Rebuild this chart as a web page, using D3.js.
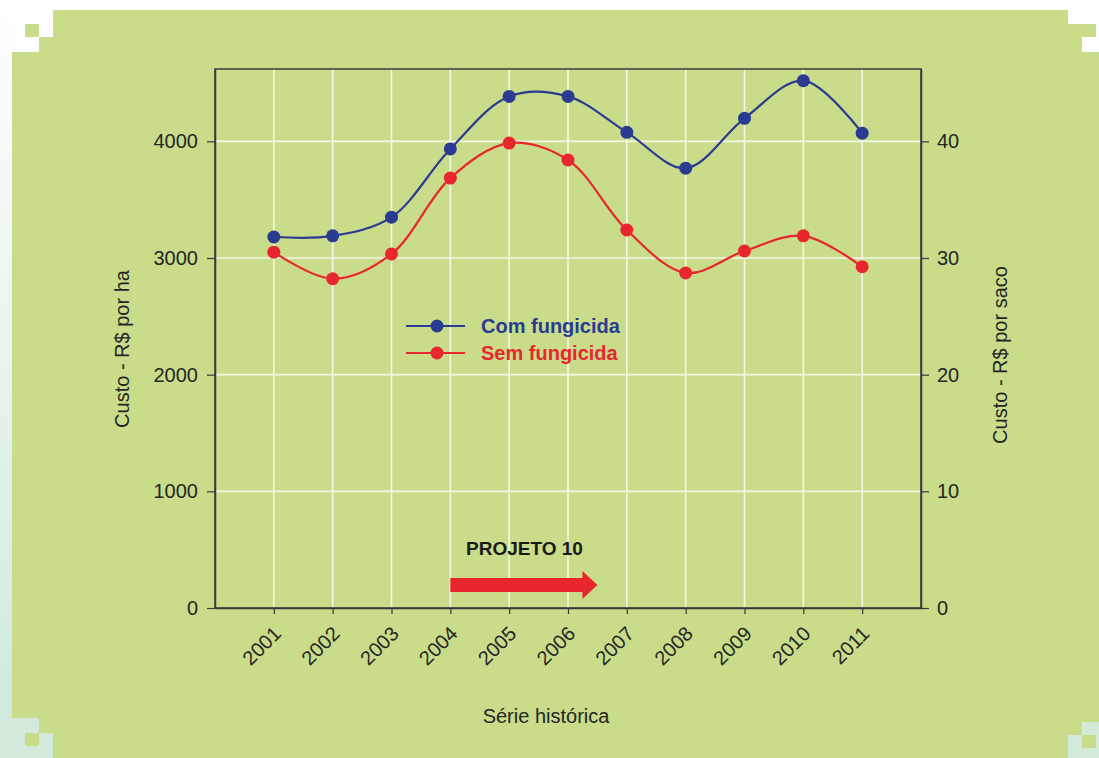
<!DOCTYPE html>
<html>
<head>
<meta charset="utf-8">
<script src="https://cdn.jsdelivr.net/npm/d3@7"></script>
<style>
  html, body { margin: 0; padding: 0; background: #ffffff; }
  svg { display: block; font-family: "Liberation Sans", Arial, sans-serif; }
</style>
</head>
<body>
<svg id="chart" width="1099" height="758"></svg>
<script>
// ---- data ----
const years = [2001, 2002, 2003, 2004, 2005, 2006, 2007, 2008, 2009, 2010, 2011];
const comFungicida = [3180, 3190, 3350, 3935, 4385, 4385, 4077, 3770, 4197, 4520, 4070];
const semFungicida = [3050, 2822, 3035, 3685, 3985, 3840, 3240, 2872, 3060, 3190, 2925];
const leftTicks = [0, 1000, 2000, 3000, 4000];
const rightTicks = [0, 10, 20, 30, 40];
const seriesNames = ["Com fungicida", "Sem fungicida"];
const projectLabel = "PROJETO 10";
const projectStart = 2004;
const projectEnd = 2006.5;

// ---- layout ----
const W = 1099, H = 758;
const plot = { left: 215, right: 921, top: 69, bottom: 608 };
const green = "#c8dc8a";
const blue = "#2a3b92";
const red = "#e8262e";
const ink = "#262626";

const svg = d3.select("#chart");

// background decoration
const defs = svg.append("defs");
const lg = defs.append("linearGradient").attr("id", "leftfade").attr("x1", 0).attr("y1", 0).attr("x2", 0).attr("y2", 1);
lg.append("stop").attr("offset", "0%").attr("stop-color", "#ffffff");
lg.append("stop").attr("offset", "100%").attr("stop-color", "#cfe8da");
svg.append("rect").attr("x", 0).attr("y", 0).attr("width", W).attr("height", H).attr("fill", "#ffffff");
svg.append("rect").attr("x", 0).attr("y", 0).attr("width", 14).attr("height", H).attr("fill", "url(#leftfade)");
svg.append("rect").attr("x", 0).attr("y", 716).attr("width", 54).attr("height", 42).attr("fill", "#d3eadb");
svg.append("rect").attr("x", 1066).attr("y", 720).attr("width", 33).attr("height", 38).attr("fill", "#d3eadb");

// main green panel (stepped corners)
const panelPath = [
  [53, 10], [1068, 10], [1068, 24], [1082, 24], [1082, 52], [1099, 52],
  [1099, 722], [1082, 722], [1082, 735], [1068, 735], [1068, 758],
  [53, 758], [53, 733], [39, 733], [39, 718], [12, 718],
  [12, 52], [39, 52], [39, 37], [53, 37]
];
svg.append("path").attr("d", d3.line()(panelPath) + "Z").attr("fill", green);
// small corner squares
[[25, 24], [1082, 24], [25, 733], [1082, 735]].forEach(([sx, sy]) => {
  svg.append("rect").attr("x", sx).attr("y", sy).attr("width", 14).attr("height", 13).attr("fill", green);
});

// ---- scales ----
const x = d3.scaleLinear().domain([2000, 2012]).range([plot.left, plot.right]);
const yMax = 4620;
const y = d3.scaleLinear().domain([0, yMax]).range([plot.bottom, plot.top]);
const y2 = d3.scaleLinear().domain([0, yMax / 100]).range([plot.bottom, plot.top]);

// grid
const grid = svg.append("g");
grid.selectAll("line.v").data(years).join("line")
  .attr("x1", d => x(d)).attr("x2", d => x(d))
  .attr("y1", plot.top).attr("y2", plot.bottom)
  .attr("stroke", "#f4f7e6").attr("stroke-width", 1.6);
grid.selectAll("line.h").data(leftTicks.filter(d => d > 0)).join("line")
  .attr("x1", plot.left).attr("x2", plot.right)
  .attr("y1", d => y(d)).attr("y2", d => y(d))
  .attr("stroke", "#f4f7e6").attr("stroke-width", 1.6);

// frame
svg.append("rect")
  .attr("x", plot.left).attr("y", plot.top)
  .attr("width", plot.right - plot.left).attr("height", plot.bottom - plot.top)
  .attr("fill", "none").attr("stroke", "#3a3a3a").attr("stroke-width", 1.5);

// axes
function styleAxis(g) {
  g.select(".domain").attr("stroke", "#3a3a3a").attr("stroke-width", 1.5);
  g.selectAll(".tick line").attr("stroke", "#3a3a3a").attr("stroke-width", 1.2);
  g.selectAll(".tick text").attr("fill", ink).style("font-size", "20px")
    .style("font-family", "'Liberation Sans', Arial, sans-serif");
}
const gl = svg.append("g").attr("transform", `translate(${plot.left},0)`)
  .call(d3.axisLeft(y).tickValues(leftTicks).tickFormat(d3.format("d")).tickSize(8).tickSizeOuter(0).tickPadding(9));
styleAxis(gl);
const gr = svg.append("g").attr("transform", `translate(${plot.right},0)`)
  .call(d3.axisRight(y2).tickValues(rightTicks).tickFormat(d3.format("d")).tickSize(8).tickSizeOuter(0).tickPadding(8));
styleAxis(gr);
const gb = svg.append("g").attr("transform", `translate(0,${plot.bottom})`)
  .call(d3.axisBottom(x).tickValues(years).tickFormat(d3.format("d")).tickSize(6).tickSizeOuter(0));
styleAxis(gb);
gb.selectAll(".tick text")
  .attr("text-anchor", "end")
  .attr("dy", "0")
  .attr("y", 0)
  .attr("transform", "translate(8,27) rotate(-45)");

// axis titles
svg.append("text").attr("transform", "translate(129,349) rotate(-90)")
  .attr("text-anchor", "middle").attr("fill", ink).style("font-size", "20px")
  .text("Custo - R$ por ha");
svg.append("text").attr("transform", "translate(1007,355) rotate(-90)")
  .attr("text-anchor", "middle").attr("fill", ink).style("font-size", "20px")
  .text("Custo - R$ por saco");
svg.append("text").attr("x", 546).attr("y", 723)
  .attr("text-anchor", "middle").attr("fill", ink).style("font-size", "20px")
  .text("Série histórica");

// series
const line = d3.line().x((d, i) => x(years[i])).y(d => y(d)).curve(d3.curveCatmullRom.alpha(0.5));
const series = [
  { name: seriesNames[0], values: comFungicida, color: blue },
  { name: seriesNames[1], values: semFungicida, color: red }
];
series.forEach(s => {
  svg.append("path").attr("d", line(s.values)).attr("fill", "none")
    .attr("stroke", s.color).attr("stroke-width", 2.2);
  svg.append("g").selectAll("circle").data(s.values).join("circle")
    .attr("cx", (d, i) => x(years[i])).attr("cy", d => y(d)).attr("r", 6.5)
    .attr("fill", s.color);
});

// legend
const legend = svg.append("g");
series.forEach((s, i) => {
  const ly = 326 + i * 27;
  legend.append("line").attr("x1", 406).attr("x2", 465).attr("y1", ly).attr("y2", ly)
    .attr("stroke", s.color).attr("stroke-width", 2);
  legend.append("circle").attr("cx", 437).attr("cy", ly).attr("r", 6.5).attr("fill", s.color);
  legend.append("text").attr("x", 481).attr("y", ly + 7).attr("fill", s.color)
    .style("font-size", "20px").style("font-weight", "bold").text(s.name);
});

// project arrow
const ax0 = x(projectStart), ax1 = x(projectEnd);
const ay = 585;
svg.append("path")
  .attr("d", d3.line()([
    [ax0, ay - 7], [ax1 - 15, ay - 7], [ax1 - 15, ay - 14], [ax1, ay],
    [ax1 - 15, ay + 14], [ax1 - 15, ay + 7], [ax0, ay + 7]
  ]) + "Z")
  .attr("fill", red);
svg.append("text").attr("x", 466).attr("y", 555).attr("fill", "#1a1a1a")
  .style("font-size", "19px").style("font-weight", "bold").text(projectLabel);
</script>
</body>
</html>
